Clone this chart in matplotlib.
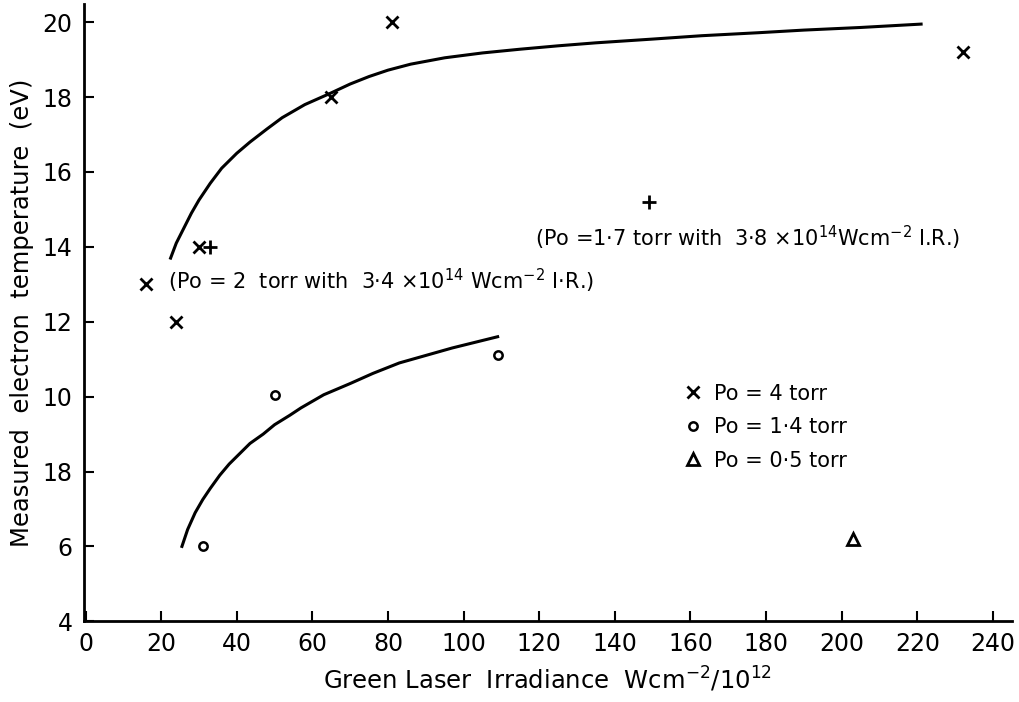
import matplotlib.pyplot as plt
from matplotlib.lines import Line2D

# Po = 4 torr (crosses)
x_4torr = [16, 24, 30, 65, 81, 232]
y_4torr = [13.0, 12.0, 14.0, 18.0, 20.0, 19.2]
# Po = 2 / 1.7 torr with IR (plus)
x_ir = [33, 149]
y_ir = [14.0, 15.2]
# Po = 1.4 torr (circles)
x_14torr = [31, 50, 109]
y_14torr = [6.0, 10.05, 11.1]
# Po = 0.5 torr (triangle)
x_05torr = [203]
y_05torr = [6.2]

# hand-drawn curves
upper_x = [22.5, 24, 26, 28, 30, 33, 36, 40, 43.5, 48, 52, 58, 64.7, 70, 75, 80, 86,
           95, 105, 115, 125, 135, 150, 163, 178, 190, 205, 221]
upper_y = [13.7, 14.1, 14.5, 14.9, 15.25, 15.7, 16.1, 16.5, 16.8, 17.15, 17.45, 17.8, 18.1,
           18.35, 18.55, 18.72, 18.88, 19.05, 19.18, 19.28, 19.37, 19.45, 19.55, 19.64,
           19.72, 19.79, 19.86, 19.95]
lower_x = [25.5, 27, 29, 31, 33, 35.5, 38, 41, 43.5, 47, 50, 54, 57, 63, 70, 76, 83,
           90, 97, 103, 109]
lower_y = [6.0, 6.45, 6.9, 7.25, 7.55, 7.9, 8.2, 8.5, 8.75, 9.0, 9.25, 9.5, 9.7, 10.05,
           10.35, 10.62, 10.9, 11.1, 11.3, 11.45, 11.6]

xticks = list(range(0, 241, 20))
yticks = [4, 6, 8, 10, 12, 14, 16, 18, 20]
ytick_labels = ['4', '6', '18', '10', '12', '14', '16', '18', '20']

plt.rcParams['font.family'] = 'DejaVu Sans'
fig = plt.figure(figsize=(10.2, 7.02), dpi=100)
ax = fig.add_axes([0.082, 0.115, 0.91, 0.88])

ax.plot(upper_x, upper_y, color='black', lw=2.2)
ax.plot(lower_x, lower_y, color='black', lw=2.2)

ax.plot(x_4torr, y_4torr, 'x', color='black', ms=8, mew=2, ls='none')
ax.plot(x_ir, y_ir, '+', color='black', ms=10, mew=2, ls='none')
ax.plot(x_14torr, y_14torr, 'o', color='black', ms=6, mew=1.8, mfc='white', ls='none')
ax.plot(x_05torr, y_05torr, '^', color='black', ms=8, mew=2, mfc='white', ls='none')

ax.text(21.8, 13.1, '(Po = 2  torr with  3·4 ×10$^{14}$ Wcm$^{-2}$ I·R.)',
        fontsize=15, va='center', ha='left')
ax.text(119, 14.25, '(Po =1·7 torr with  3·8 ×10$^{14}$Wcm$^{-2}$ I.R.)',
        fontsize=15, va='center', ha='left')

handles = [
    Line2D([], [], marker='x', color='black', ls='none', ms=8, mew=2),
    Line2D([], [], marker='o', color='black', ls='none', ms=6, mew=1.8, mfc='white'),
    Line2D([], [], marker='^', color='black', ls='none', ms=8, mew=2, mfc='white'),
]
labels = ['Po = 4 torr', 'Po = 1·4 torr', 'Po = 0·5 torr']
ax.legend(handles, labels, loc='upper left', bbox_to_anchor=(0.625, 0.415),
          frameon=False, fontsize=15, handletextpad=0.5, labelspacing=0.65,
          handlelength=1.0)

ax.set_xlim(-0.5, 245)
ax.set_ylim(4, 20.5)
ax.set_xticks(xticks)
ax.set_yticks(yticks)
ax.set_yticklabels(ytick_labels)
ax.tick_params(direction='in', length=7, width=1.5, labelsize=17, pad=8)
ax.spines['top'].set_visible(False)
ax.spines['right'].set_visible(False)
ax.spines['left'].set_linewidth(2)
ax.spines['bottom'].set_linewidth(2)

ax.set_xlabel('Green Laser  Irradiance  Wcm$^{-2}$/10$^{12}$', fontsize=17.5, labelpad=6)
ax.set_ylabel('Measured  electron  temperature  (eV)', fontsize=17.5, labelpad=6)

fig.savefig('out.png', dpi=100)
